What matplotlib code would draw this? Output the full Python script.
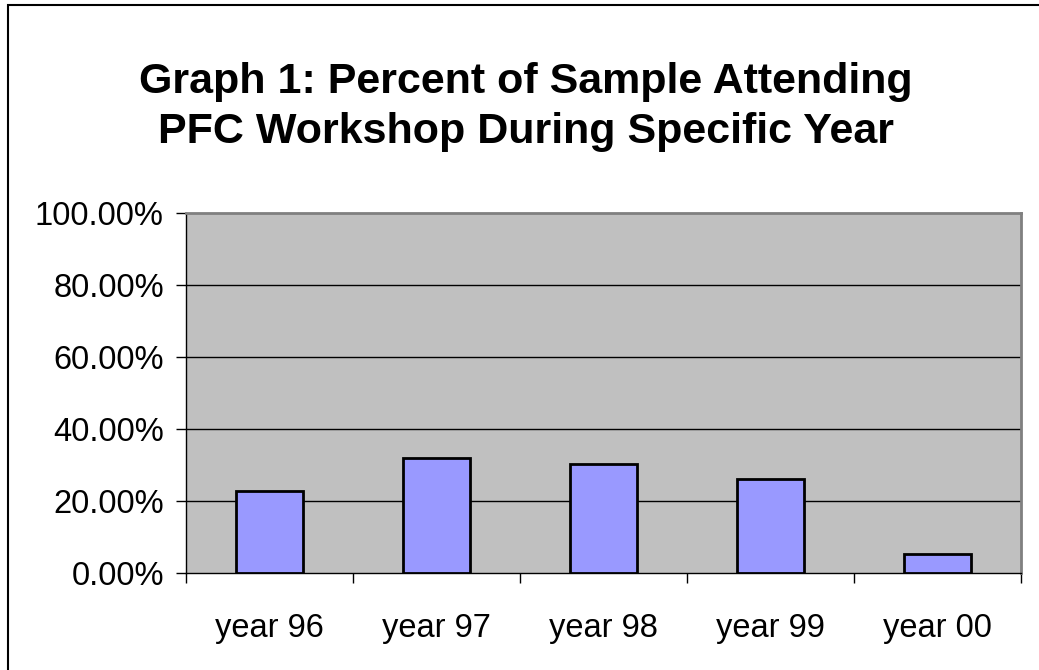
import matplotlib
matplotlib.use("Agg")
import matplotlib.pyplot as plt
from matplotlib.patches import Rectangle
from matplotlib.ticker import FixedLocator, PercentFormatter

plt.rcParams['font.family'] = ['Liberation Sans', 'DejaVu Sans']

categories = ["year 96", "year 97", "year 98", "year 99", "year 00"]
percent_attending = [22.7, 32.0, 30.2, 26.0, 5.2]
y_ticks = [0, 20, 40, 60, 80, 100]
title = "Graph 1: Percent of Sample Attending\nPFC Workshop During Specific Year"

W, H = 1039, 670
fig = plt.figure(figsize=(W / 100, H / 100), dpi=100)
fig.patch.set_facecolor("white")

# chart-area frame
fig.patches.append(Rectangle((8 / W, -0.05), 1.2, (H - 5) / H + 0.05,
                             transform=fig.transFigure, fill=False,
                             edgecolor="black", linewidth=1.5))

left, right, top, bottom = 186, 1021, 213, 573
ax = fig.add_axes([left / W, (H - bottom) / H, (right - left) / W, (bottom - top) / H])
ax.set_facecolor("#C0C0C0")

x = list(range(len(categories)))
ax.bar(x, percent_attending, width=0.4, color="#9999FF",
       edgecolor="black", linewidth=2.0, zorder=3)

ax.set_ylim(0, 100)
ax.set_xlim(-0.5, len(categories) - 0.5)
ax.set_yticks(y_ticks)
ax.yaxis.set_major_formatter(PercentFormatter(decimals=2))
for v in y_ticks[1:-1]:
    ax.axhline(v, color="black", linewidth=1.0, zorder=2)

# category boundaries as major ticks, names centered as minor labels
ax.xaxis.set_major_locator(FixedLocator([i - 0.5 for i in range(len(categories) + 1)]))
ax.set_xticklabels([])
ax.xaxis.set_minor_locator(FixedLocator(x))
ax.set_xticklabels(categories, minor=True)
ax.tick_params(axis="x", which="major", direction="out", length=7, width=1, color="black")
ax.tick_params(axis="x", which="minor", length=0, pad=29, labelsize=23.5)
ax.tick_params(axis="y", direction="out", length=7, width=1, pad=9, labelsize=23.5)

for side in ("top", "right"):
    ax.spines[side].set_color("#808080")
    ax.spines[side].set_linewidth(2)
for side in ("left", "bottom"):
    ax.spines[side].set_color("black")
    ax.spines[side].set_linewidth(1)

fig.text(526 / W, 1 - 107 / H, title, ha="center", va="center",
         fontsize=31, fontweight="bold", linespacing=1.3)

fig.savefig("out.png", dpi=100)
